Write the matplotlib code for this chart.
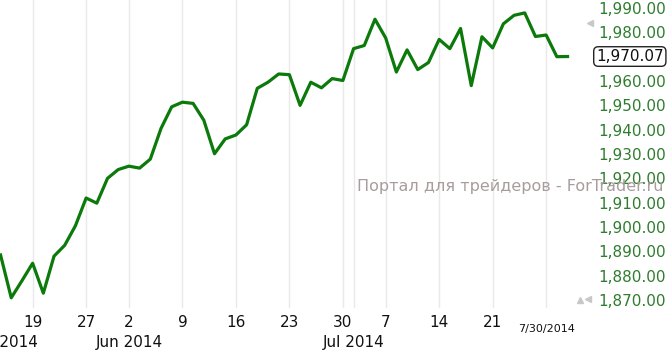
import numpy as np
import pandas as pd
import matplotlib
matplotlib.use('Agg')
import matplotlib.pyplot as plt
import matplotlib.transforms as mtransforms

#################################################################################
# data (S&P 500 daily close)
#################################################################################
dates = ['2014-05-14', '2014-05-15', '2014-05-16', '2014-05-19', '2014-05-20',
         '2014-05-21', '2014-05-22', '2014-05-23', '2014-05-27', '2014-05-28',
         '2014-05-29', '2014-05-30', '2014-06-02', '2014-06-03', '2014-06-04',
         '2014-06-05', '2014-06-06', '2014-06-09', '2014-06-10', '2014-06-11',
         '2014-06-12', '2014-06-13', '2014-06-16', '2014-06-17', '2014-06-18',
         '2014-06-19', '2014-06-20', '2014-06-23', '2014-06-24', '2014-06-25',
         '2014-06-26', '2014-06-27', '2014-06-30', '2014-07-01', '2014-07-02',
         '2014-07-03', '2014-07-07', '2014-07-08', '2014-07-09', '2014-07-10',
         '2014-07-11', '2014-07-14', '2014-07-15', '2014-07-16', '2014-07-17',
         '2014-07-18', '2014-07-21', '2014-07-22', '2014-07-23', '2014-07-24',
         '2014-07-25', '2014-07-28', '2014-07-29', '2014-07-30']
closes = [1888.5, 1870.9, 1877.9, 1885.1, 1872.8, 1888.0, 1892.5, 1900.5,
          1911.9, 1909.8, 1920.0, 1923.6, 1925.0, 1924.2, 1927.9, 1940.5,
          1949.4, 1951.3, 1950.8, 1943.9, 1930.1, 1936.2, 1937.8, 1942.0,
          1957.0, 1959.5, 1962.9, 1962.6, 1950.0, 1959.5, 1957.2, 1961.0,
          1960.2, 1973.3, 1974.6, 1985.4, 1977.7, 1963.7, 1972.8, 1964.7,
          1967.6, 1977.1, 1973.3, 1981.6, 1958.1, 1978.2, 1973.6, 1983.5,
          1987.0, 1988.0, 1978.3, 1978.9, 1970.0, 1970.07]

tick_days   = ['2014-05-19', '2014-05-27', '2014-06-02', '2014-06-09', '2014-06-16',
               '2014-06-23', '2014-06-30', '2014-07-07', '2014-07-14', '2014-07-21']
tick_labels = ['19', '27', '2', '9', '16', '23', '30', '7', '14', '21']
month_days   = ['2014-05-14', '2014-06-02', '2014-07-01']
month_labels = ['May 2014', 'Jun 2014', 'Jul 2014']
extra_grid   = ['2014-07-01', '2014-07-28']
current_day  = '2014-07-28'
current_text = '7/30/2014'
last_value   = 1970.07
y_ticks = [1870, 1880, 1890, 1900, 1910, 1920, 1930, 1940, 1950, 1960, 1980, 1990]


#################################################################################
# chart
#################################################################################
def draw():
	idx = {d: i for i, d in enumerate(dates)}
	x = np.arange(len(dates))

	fig = plt.figure(figsize=(6.71, 3.5), dpi=100)
	ax = fig.add_axes([0.0, 42 / 350, 590 / 671, 308 / 350])

	for d in tick_days + extra_grid:
		ax.axvline(idx[d], color='#e9e9e9', lw=1, zorder=0)

	ax.plot(x, closes, color='#0b7a0b', lw=2.3, solid_joinstyle='round', zorder=3)

	ax.set_xlim(-0.05, 55.1)
	ax.set_ylim(1866.7, 1993.3)

	for s in ax.spines.values():
		s.set_visible(False)

	# x ticks (day numbers)
	ax.set_xticks([idx[d] for d in tick_days])
	ax.set_xticklabels(tick_labels, fontsize=11, color='#111111')
	ax.tick_params(axis='x', length=0, pad=5)

	# y ticks on the right, green
	ax.yaxis.tick_right()
	ax.set_yticks(y_ticks)
	ax.set_yticklabels(['{:,.2f}'.format(v) for v in y_ticks], fontsize=11, color='#2e7d2e')
	ax.tick_params(axis='y', length=0, pad=6)

	# month labels
	tr = mtransforms.blended_transform_factory(ax.transData, ax.transAxes)
	for d, lab in zip(month_days, month_labels):
		ax.text(idx[d], -0.087, lab, transform=tr, ha='center', va='top',
		        fontsize=11, color='#111111', clip_on=False)

	# current date label
	ax.text(idx[current_day], -0.052, current_text, transform=tr, ha='center', va='top',
	        fontsize=8, color='#111111', clip_on=False)

	# last value box
	tr2 = mtransforms.blended_transform_factory(ax.transAxes, ax.transData)
	ax.text(1.0 + 6 / 590, last_value, '{:,.2f}'.format(last_value), transform=tr2,
	        ha='left', va='center', fontsize=11, color='#111111', clip_on=False,
	        bbox=dict(boxstyle='round,pad=0.15,rounding_size=0.3', fc='white',
	                  ec='#222222', lw=1))

	# small grey arrows at the axis edge
	ax.plot([1.0], [0.925], marker='<', ms=5, color='#c8c8c8', transform=ax.transAxes, clip_on=False)
	ax.plot([0.983], [0.025], marker='^', ms=4, color='#c8c8c8', transform=ax.transAxes, clip_on=False)
	ax.plot([0.996], [0.03], marker='<', ms=4, color='#c8c8c8', transform=ax.transAxes, clip_on=False)

	# watermark
	fig.text(510 / 671, 1 - 186 / 350, 'Портал для трейдеров - ForTrader.ru',
	         ha='center', va='center', fontsize=11.5, color='#a89c9c')

	fig.savefig('out.png', dpi=100)


#################################################################################
# MAIN PROGRAM
#################################################################################
if __name__ == '__main__':
	draw()
